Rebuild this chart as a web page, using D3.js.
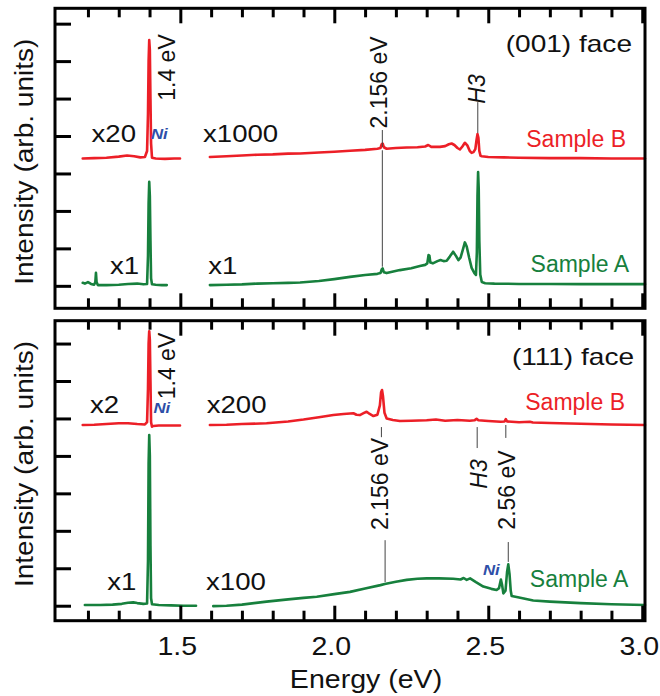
<!DOCTYPE html>
<html>
<head>
<meta charset="utf-8">
<script src="https://cdn.jsdelivr.net/npm/d3@7"></script>
<style>
  html, body { margin: 0; padding: 0; background: #fff; }
  svg { display: block; }
  text { font-family: "Liberation Sans", Arial, Helvetica, sans-serif; }
</style>
</head>
<body>
<svg id="chart" width="660" height="696"></svg>
<script>
// Photoluminescence spectra, [energy (eV), intensity (arb. units, offset)]

// (001) face, Sample B
const face001SampleBLow = [
  [1.183,3.40],[1.22,3.41],[1.26,3.42],[1.30,3.45],[1.327,3.48],[1.35,3.46],[1.37,3.43],[1.385,3.44],
  [1.392,3.60],[1.395,4.6],[1.397,6.0],[1.399,6.56],[1.401,6.3],[1.403,5.0],[1.405,3.8],[1.408,3.42],
  [1.42,3.40],[1.45,3.39],[1.48,3.40],[1.499,3.40]
];
const face001SampleBHigh = [
  [1.596,3.44],[1.65,3.46],[1.70,3.48],[1.75,3.50],[1.80,3.51],[1.85,3.53],[1.889,3.535],[1.95,3.56],
  [2.00,3.58],[2.051,3.605],[2.10,3.63],[2.14,3.66],[2.150,3.68],[2.154,3.78],[2.157,3.80],[2.161,3.70],
  [2.17,3.66],[2.20,3.68],[2.235,3.695],[2.27,3.70],[2.295,3.72],[2.305,3.76],[2.315,3.71],[2.343,3.71],
  [2.36,3.73],[2.372,3.78],[2.381,3.80],[2.39,3.76],[2.400,3.68],[2.408,3.64],[2.416,3.72],[2.424,3.82],
  [2.432,3.75],[2.440,3.60],[2.446,3.55],[2.452,3.57],[2.458,3.65],[2.462,3.90],[2.465,4.05],[2.468,3.95],
  [2.471,3.60],[2.475,3.47],[2.479,3.46],[2.50,3.44],[2.55,3.43],[2.60,3.42],[2.70,3.41],[2.80,3.41],
  [2.90,3.40],[3.009,3.40]
];
// (001) face, Sample A
const face001SampleALow = [
  [1.183,0.08],[1.19,0.06],[1.20,0.10],[1.21,0.05],[1.22,0.03],[1.224,0.10],[1.226,0.35],[1.228,0.10],
  [1.232,0.02],[1.26,0.02],[1.30,0.03],[1.33,0.05],[1.36,0.06],[1.38,0.04],[1.392,0.05],[1.395,0.8],
  [1.397,2.2],[1.399,2.78],[1.401,2.4],[1.403,1.2],[1.405,0.2],[1.408,0.04],[1.42,0.03],[1.44,0.02],
  [1.456,0.02]
];
const face001SampleAHigh = [
  [1.596,0.02],[1.65,0.03],[1.70,0.04],[1.75,0.06],[1.80,0.07],[1.85,0.08],[1.889,0.09],[1.95,0.13],
  [2.00,0.18],[2.051,0.24],[2.10,0.29],[2.14,0.32],[2.150,0.34],[2.154,0.44],[2.157,0.465],[2.161,0.36],
  [2.17,0.34],[2.213,0.42],[2.25,0.47],[2.278,0.53],[2.295,0.56],[2.302,0.60],[2.306,0.82],[2.309,0.80],
  [2.312,0.62],[2.320,0.60],[2.335,0.66],[2.345,0.69],[2.355,0.66],[2.365,0.67],[2.375,0.78],[2.386,0.91],
  [2.395,0.80],[2.403,0.686],[2.41,0.75],[2.418,0.98],[2.424,1.16],[2.430,1.05],[2.438,0.75],[2.446,0.48],
  [2.455,0.34],[2.460,0.29],[2.463,0.9],[2.465,2.4],[2.467,3.04],[2.469,2.6],[2.471,1.2],[2.474,0.3],
  [2.479,0.1],[2.49,0.07],[2.52,0.06],[2.60,0.05],[2.70,0.05],[2.80,0.045],[2.90,0.045],[3.009,0.045]
];

// (111) face, Sample B
const face111SampleBLow = [
  [1.183,4.825],[1.22,4.83],[1.26,4.85],[1.30,4.87],[1.33,4.87],[1.36,4.85],[1.385,4.84],[1.392,4.9],
  [1.395,5.8],[1.397,7.0],[1.399,7.33],[1.401,7.1],[1.403,6.0],[1.405,4.9],[1.408,4.78],[1.412,4.80],
  [1.43,4.81],[1.46,4.81],[1.499,4.81]
];
const face111SampleBHigh = [
  [1.596,4.825],[1.65,4.83],[1.70,4.85],[1.78,4.87],[1.85,4.92],[1.90,4.97],[1.95,5.03],[1.997,5.09],
  [2.03,5.12],[2.062,5.14],[2.072,5.10],[2.083,5.09],[2.095,5.14],[2.105,5.18],[2.115,5.12],[2.127,5.065],
  [2.140,5.10],[2.148,5.35],[2.152,5.70],[2.155,5.76],[2.158,5.60],[2.163,5.15],[2.17,5.00],[2.19,4.96],
  [2.213,4.93],[2.25,4.94],[2.30,4.95],[2.33,4.97],[2.36,4.94],[2.40,4.96],[2.44,4.94],[2.455,4.95],
  [2.462,4.99],[2.468,4.95],[2.50,4.93],[2.54,4.91],[2.553,4.92],[2.557,4.98],[2.561,4.92],[2.60,4.90],
  [2.635,4.91],[2.645,4.89],[2.70,4.88],[2.80,4.86],[2.90,4.84],[3.009,4.825]
];
// (111) face, Sample A
const face111SampleALow = [
  [1.19,0.02],[1.24,0.02],[1.28,0.03],[1.31,0.05],[1.33,0.08],[1.347,0.09],[1.36,0.07],[1.38,0.05],
  [1.392,0.06],[1.395,1.2],[1.397,3.8],[1.399,4.56],[1.401,4.0],[1.403,1.6],[1.405,0.2],[1.408,0.04],
  [1.43,0.02],[1.47,0.01],[1.51,0.0],[1.551,0.0]
];
const face111SampleAHigh = [
  [1.607,-0.01],[1.65,0.0],[1.70,0.03],[1.78,0.11],[1.85,0.17],[1.90,0.21],[1.943,0.24],[2.00,0.31],
  [2.051,0.37],[2.10,0.46],[2.15,0.55],[2.164,0.58],[2.20,0.64],[2.235,0.69],[2.27,0.72],[2.30,0.73],
  [2.34,0.73],[2.386,0.72],[2.41,0.70],[2.42,0.74],[2.43,0.69],[2.441,0.73],[2.46,0.63],[2.484,0.51],
  [2.51,0.45],[2.527,0.42],[2.535,0.47],[2.541,0.70],[2.545,0.55],[2.549,0.33],[2.556,0.40],[2.561,0.90],
  [2.565,1.105],[2.569,0.85],[2.573,0.40],[2.576,0.26],[2.60,0.22],[2.646,0.14],[2.70,0.11],[2.80,0.07],
  [2.90,0.04],[3.009,0.02]
];

// Guide lines: [energy, from, to] in intensity units
const guides001 = [[2.156,4.16,3.71],[2.156,3.62,0.51],[2.466,4.905,4.08]];
const guides111 = [[2.153,4.77,4.50],[2.165,1.75,0.63],[2.464,4.77,4.21],[2.557,4.825,4.48],[2.565,1.70,1.17]];

// Axis ticks
const energyMajor = [1.5, 2.0, 2.5, 3.0];
const energyMinor = [1.2,1.3,1.4,1.6,1.7,1.8,1.9,2.1,2.2,2.3,2.4,2.6,2.7,2.8,2.9];
const energyLabels = ["1.5", "2.0", "2.5", "3.0"];
const intensityTicks = [0,1,2,3,4,5,6,7];

const RED = "#ec1f27";
const GREEN = "#17803d";
const BLUE = "#2f4fa8";

const svg = d3.select("#chart");
const x = d3.scaleLinear().domain([1.093, 3.009]).range([55, 645]);

function addText(g, str, px, py, o) {
  o = o || {};
  const t = g.append("text")
    .attr("transform", `translate(${px},${py})` + (o.rotate ? ` rotate(${o.rotate})` : "") +
      (o.stretch ? ` scale(${o.stretch},1)` : ""))
    .attr("text-anchor", o.anchor || "start")
    .attr("font-size", (o.size || 23) + "px")
    .attr("fill", o.fill || "#111")
    .text(str);
  if (o.italic) t.attr("font-style", "italic");
  if (o.bold) t.attr("font-weight", "bold");
  return t;
}

function drawPanel(cfg) {
  const y = d3.scaleLinear().domain(cfg.yDomain).range([cfg.bottom, cfg.top]);
  const g = svg.append("g");
  const line = d3.line().x(d => x(d[0])).y(d => y(d[1]));

  // spectra
  cfg.series.forEach(s => {
    g.append("path").datum(s.data)
      .attr("d", line)
      .attr("fill", "none")
      .attr("stroke", s.color)
      .attr("stroke-width", 2.6)
      .attr("stroke-linejoin", "round")
      .attr("stroke-linecap", "round");
  });

  // guide lines
  g.selectAll("line.guide").data(cfg.guides).enter().append("line")
    .attr("class", "guide")
    .attr("x1", d => x(d[0])).attr("x2", d => x(d[0]))
    .attr("y1", d => y(d[1])).attr("y2", d => y(d[2]))
    .attr("stroke", "#444").attr("stroke-width", 1);

  // tick marks (inward)
  const tickStyle = sel => {
    sel.select(".domain").remove();
    sel.selectAll(".tick line").attr("stroke", "#000").attr("stroke-width", 3);
    sel.selectAll(".tick text").remove();
  };
  g.append("g").attr("transform", `translate(0,${cfg.bottom})`)
    .call(d3.axisBottom(x).tickValues(energyMinor).tickSize(-10).tickFormat("")).call(tickStyle);
  g.append("g").attr("transform", `translate(0,${cfg.bottom})`)
    .call(d3.axisBottom(x).tickValues(energyMajor).tickSize(-15).tickFormat("")).call(tickStyle);
  g.append("g").attr("transform", `translate(0,${cfg.top})`)
    .call(d3.axisTop(x).tickValues(energyMinor).tickSize(-9).tickFormat("")).call(tickStyle);
  g.append("g").attr("transform", `translate(0,${cfg.top})`)
    .call(d3.axisTop(x).tickValues(energyMajor).tickSize(-15).tickFormat("")).call(tickStyle);
  g.append("g").attr("transform", `translate(55,0)`)
    .call(d3.axisLeft(y).tickValues(intensityTicks).tickSize(-16).tickFormat("")).call(tickStyle);

  // frame
  g.append("rect")
    .attr("x", 55).attr("y", cfg.top)
    .attr("width", 590).attr("height", cfg.bottom - cfg.top)
    .attr("fill", "none").attr("stroke", "#000").attr("stroke-width", 3);

  // y-axis title
  addText(g, "Intensity (arb. units)", 33, cfg.titleY,
    { rotate: -90, anchor: "middle", size: 25.5, stretch: 1.1 });

  cfg.labels(g);
  return y;
}

// (001) face
drawPanel({
  top: 8.3, bottom: 308.3, yDomain: [-0.6, 7.41], titleY: 161.7,
  series: [
    { data: face001SampleBLow, color: RED },
    { data: face001SampleBHigh, color: RED },
    { data: face001SampleALow, color: GREEN },
    { data: face001SampleAHigh, color: GREEN }
  ],
  guides: guides001,
  labels: g => {
    addText(g, "x20", 91.5, 141.7, { stretch: 1.2 });
    addText(g, "x1000", 203, 141.7, { stretch: 1.2 });
    addText(g, "x1", 110, 274.3, { stretch: 1.2 });
    addText(g, "x1", 208.3, 274.3, { stretch: 1.2 });
    addText(g, "Ni", 151, 138.5, { size: 14, bold: true, italic: true, fill: BLUE, stretch: 1.2 });
    addText(g, "1.4 eV", 175, 67.5, { rotate: -90, anchor: "middle", size: 23 });
    addText(g, "2.156 eV", 387, 82.5, { rotate: -90, anchor: "middle", size: 23 });
    addText(g, "H3", 485, 89, { rotate: -90, anchor: "middle", size: 23, italic: true });
    addText(g, "(001) face", 632, 52, { anchor: "end", stretch: 1.22 });
    addText(g, "Sample B", 626, 147, { anchor: "end", fill: RED });
    addText(g, "Sample A", 629, 272, { anchor: "end", fill: GREEN });
  }
});

// (111) face
drawPanel({
  top: 320.7, bottom: 620.7, yDomain: [-0.4, 7.61], titleY: 464,
  series: [
    { data: face111SampleBLow, color: RED },
    { data: face111SampleBHigh, color: RED },
    { data: face111SampleALow, color: GREEN },
    { data: face111SampleAHigh, color: GREEN }
  ],
  guides: guides111,
  labels: g => {
    addText(g, "x2", 90, 413.3, { stretch: 1.2 });
    addText(g, "x200", 206.7, 413.3, { stretch: 1.2 });
    addText(g, "x1", 107.3, 590, { stretch: 1.2 });
    addText(g, "x100", 206, 590, { stretch: 1.2 });
    addText(g, "Ni", 153.5, 413.3, { size: 14, bold: true, italic: true, fill: BLUE, stretch: 1.2 });
    addText(g, "Ni", 483, 575, { size: 14, bold: true, italic: true, fill: BLUE, stretch: 1.2 });
    addText(g, "1.4 eV", 175, 366, { rotate: -90, anchor: "middle", size: 23 });
    addText(g, "2.156 eV", 388, 484, { rotate: -90, anchor: "middle", size: 23 });
    addText(g, "H3", 487, 474, { rotate: -90, anchor: "middle", size: 23, italic: true });
    addText(g, "2.56 eV", 515, 490, { rotate: -90, anchor: "middle", size: 23 });
    addText(g, "(111) face", 634, 365, { anchor: "end", stretch: 1.22 });
    addText(g, "Sample B", 625, 410, { anchor: "end", fill: RED });
    addText(g, "Sample A", 628.3, 586.7, { anchor: "end", fill: GREEN });
  }
});

// energy tick labels and axis title
const axisG = svg.append("g");
energyMajor.forEach((v, i) => {
  addText(axisG, energyLabels[i], x(v) - 3, 655, { anchor: "middle", size: 25.5, stretch: 1.12 });
});
addText(axisG, "Energy (eV)", 366, 688.3, { anchor: "middle", size: 25.5, stretch: 1.12 });
</script>
</body>
</html>
